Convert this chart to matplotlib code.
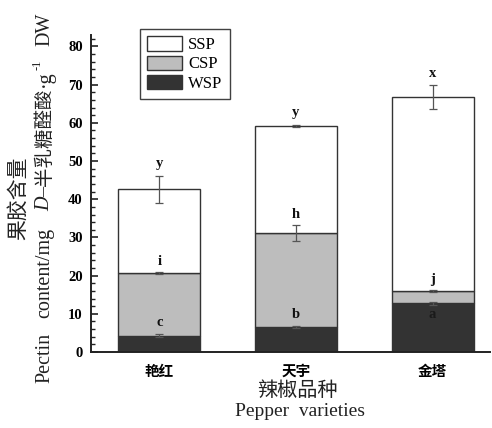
import matplotlib
matplotlib.use("Agg")
import matplotlib.pyplot as plt
import numpy as np
from matplotlib.ticker import MultipleLocator

varieties = ["艳红", "天宇", "金塔"]
wsp = [4.3, 6.5, 12.7]
csp = [16.4, 24.6, 3.3]
ssp = [21.9, 28.0, 50.7]
wsp_err = [0.3, 0.3, 0.3]
csp_err = [0.2, 2.1, 0.3]
ssp_err = [3.5, 0.3, 3.1]
wsp_letters = ["c", "b", "a"]
csp_letters = ["i", "h", "j"]
ssp_letters = ["y", "y", "x"]

SERIF = ["Liberation Serif", "Noto Sans CJK SC"]
CJK = ["Noto Sans CJK SC", "DejaVu Sans"]

fig = plt.figure(figsize=(4.92, 4.28), dpi=100)
ax = fig.add_axes([91 / 492, 1 - 352 / 428, 399 / 492, 317 / 428])

x = np.arange(len(varieties))
w = 0.6
edge = "#333333"
b1 = ax.bar(x, wsp, w, color="#333333", edgecolor=edge, linewidth=1, label="WSP")
bottom2 = np.array(wsp)
b2 = ax.bar(x, csp, w, bottom=bottom2, color="#bdbdbd", edgecolor=edge, linewidth=1, label="CSP")
bottom3 = bottom2 + np.array(csp)
b3 = ax.bar(x, ssp, w, bottom=bottom3, color="white", edgecolor=edge, linewidth=1, label="SSP")
top3 = bottom3 + np.array(ssp)

ekw = dict(fmt="none", ecolor="#555555", elinewidth=0.9, capsize=3, capthick=0.9)
ax.errorbar(x, bottom2, yerr=wsp_err, **ekw)
ax.errorbar(x, bottom3, yerr=csp_err, **ekw)
ax.errorbar(x, top3, yerr=ssp_err, **ekw)

lkw = dict(ha="center", va="center", fontsize=10.5, fontweight="bold", family=SERIF)
for i in range(len(x)):
    if wsp_letters[i] == "a":
        ax.text(x[i], bottom2[i] - wsp_err[i] - 2.7, wsp_letters[i], color="#1a1a1a", **lkw)
    else:
        ax.text(x[i], bottom2[i] + wsp_err[i] + 3.0, wsp_letters[i], color="#111111", **lkw)
    ax.text(x[i], bottom3[i] + csp_err[i] + 2.8, csp_letters[i], color="#111111", **lkw)
    ax.text(x[i], top3[i] + ssp_err[i] + 3.2, ssp_letters[i], color="#111111", **lkw)

ax.set_xlim(-0.5, 2.42)
ax.set_ylim(0, 83)
ax.yaxis.set_major_locator(MultipleLocator(10))
ax.yaxis.set_minor_locator(MultipleLocator(2))
ax.set_yticks(np.arange(0, 81, 10))
ax.tick_params(axis="y", which="major", direction="in", length=5, width=1.2, color="#222222", pad=6)
ax.tick_params(axis="y", which="minor", direction="in", length=3, width=1, color="#222222")
ax.tick_params(axis="x", length=0, pad=8)
ax.set_xticks(x)
ax.set_xticklabels(varieties, family=CJK, fontweight="bold", fontsize=10.5)
for lab in ax.get_yticklabels():
    lab.set_family(SERIF)
    lab.set_fontweight("bold")
    lab.set_fontsize(10.5)
for s in ["top", "right"]:
    ax.spines[s].set_visible(False)
for s in ["left", "bottom"]:
    ax.spines[s].set_linewidth(1.4)
    ax.spines[s].set_color("#222222")

leg = ax.legend(handles=[b3, b2, b1], loc="upper left", bbox_to_anchor=(0.122, 1.02),
                prop={"family": SERIF, "size": 12}, fancybox=False, frameon=True,
                edgecolor="#111111", handlelength=2.1, handleheight=0.95,
                borderpad=0.45, labelspacing=0.15, handletextpad=0.35, borderaxespad=0)
leg.get_frame().set_linewidth(1.0)

# x axis labels
fig.text(297 / 492, 1 - 390 / 428, "辣椒品种", ha="center", va="center",
         family=CJK, fontsize=14.5, color="#222222")
fig.text(300 / 492, 1 - 411 / 428, "Pepper  varieties", ha="center", va="center",
         family=SERIF, fontsize=14, color="#222222")

# y axis labels
fig.text(18 / 492, 1 - 198 / 428, "果胶含量", rotation=90, ha="center", va="center",
         family=CJK, fontsize=15, color="#222222")

parts = [
    ("Pectin", {"fontsize": 14.5}, 0),
    ("content/mg", {"fontsize": 14.5}, 15),
    ("D", {"fontsize": 14.5, "style": "italic"}, 17),
    ("–", {"fontsize": 14.5}, 0),
    ("半乳糖醛酸", {"fontsize": 14}, 1),
    ("·g", {"fontsize": 14.5}, 1),
    ("-1", {"fontsize": 9, "sup": True}, 0),
    ("DW", {"fontsize": 14.5}, 14),
]
fig.canvas.draw()
renderer = fig.canvas.get_renderer()
xc = 45
objs = []
total = 0
for s, kw, gap in parts:
    kw = dict(kw)
    sup = kw.pop("sup", False)
    fs = kw.pop("fontsize", 14)
    t = fig.text(0, 0, s, rotation=90, ha="center", va="bottom", family=SERIF,
                 fontsize=fs, color="#222222", **kw)
    h = t.get_window_extent(renderer).height
    objs.append((t, h, gap, sup))
    total += h + gap
y = (428 - 198) - total / 2
for t, h, gap, sup in objs:
    y += gap
    xx = xc - 7 if sup else xc
    t.set_position((xx / 492, y / 428))
    y += h

fig.savefig("out.png", dpi=100)
